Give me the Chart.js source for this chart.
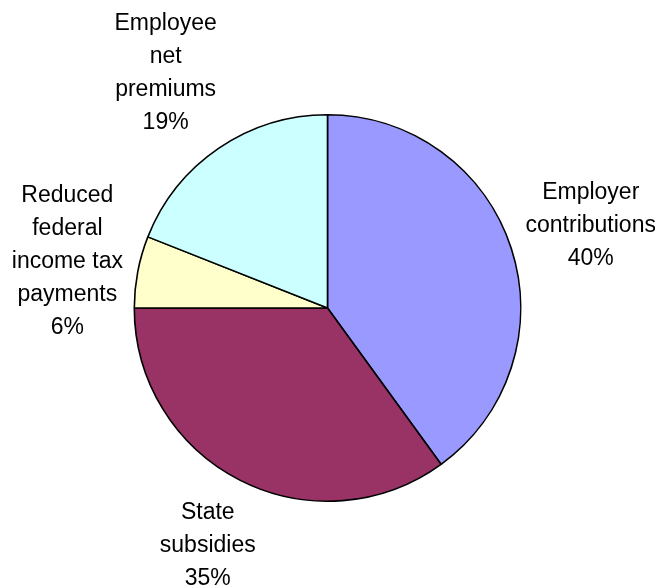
<!DOCTYPE html>
<html>
<head>
<meta charset="utf-8">
<script src="https://cdn.jsdelivr.net/npm/chart.js@4/dist/chart.umd.min.js"></script>
<style>
  html, body { margin: 0; padding: 0; background: #fff; }
  #wrap { width: 655px; height: 586px; }
</style>
</head>
<body>
<div id="wrap"><canvas id="pie" width="655" height="586"></canvas></div>
<script>
// funding sources, clockwise from 12 o'clock
const sources = [
  ['Employer', 'contributions'],
  ['State', 'subsidies'],
  ['Reduced', 'federal', 'income tax', 'payments'],
  ['Employee', 'net', 'premiums']
];
const shares = [40, 35, 6, 19];
const sliceColors = ['#9999FF', '#993366', '#FFFFCC', '#CCFFFF'];

const FONT = '23px "Liberation Sans", Arial, sans-serif';
const LINE_H = 33;
const GAP = 15;

// draws each slice name + percent outside the pie; the text block sits on the
// slice's mid radial, pushed out until its edge clears the rim by GAP
const outsideLabels = {
  id: 'outsideLabels',
  afterDatasetsDraw(chart) {
    const ctx = chart.ctx;
    const meta = chart.getDatasetMeta(0);
    const total = shares.reduce((a, b) => a + b, 0);
    ctx.save();
    ctx.font = FONT;
    ctx.fillStyle = '#000';
    ctx.textAlign = 'center';
    ctx.textBaseline = 'middle';
    meta.data.forEach((arc, i) => {
      const { x, y, startAngle, endAngle, outerRadius } = arc.getProps(['x', 'y', 'startAngle', 'endAngle', 'outerRadius'], true);
      const mid = (startAngle + endAngle) / 2;
      const lines = sources[i].concat([Math.round(shares[i] / total * 100) + '%']);
      const w = Math.max(...lines.map(l => ctx.measureText(l).width));
      const h = lines.length * LINE_H;
      const cx = Math.cos(mid), sy = Math.sin(mid);
      const half = Math.min(
        Math.abs(cx) > 1e-6 ? w / 2 / Math.abs(cx) : Infinity,
        Math.abs(sy) > 1e-6 ? h / 2 / Math.abs(sy) : Infinity
      );
      const dist = outerRadius + GAP + half;
      const lx = x + cx * dist;
      const ly = y + sy * dist + 3;
      lines.forEach((l, k) => {
        ctx.fillText(l, lx, ly - h / 2 + LINE_H * (k + 0.5));
      });
    });
    ctx.restore();
  }
};

new Chart(document.getElementById('pie'), {
  type: 'pie',
  data: {
    labels: sources.map(s => s.join(' ')),
    datasets: [{
      data: shares,
      backgroundColor: sliceColors,
      borderColor: '#000',
      borderWidth: 1.6,
      borderAlign: 'center'
    }]
  },
  options: {
    responsive: false,
    animation: false,
    layout: { padding: { top: 114, bottom: 84, left: 0, right: 0 } },
    plugins: {
      legend: { display: false },
      tooltip: { enabled: false }
    }
  },
  plugins: [outsideLabels]
});
</script>
</body>
</html>
